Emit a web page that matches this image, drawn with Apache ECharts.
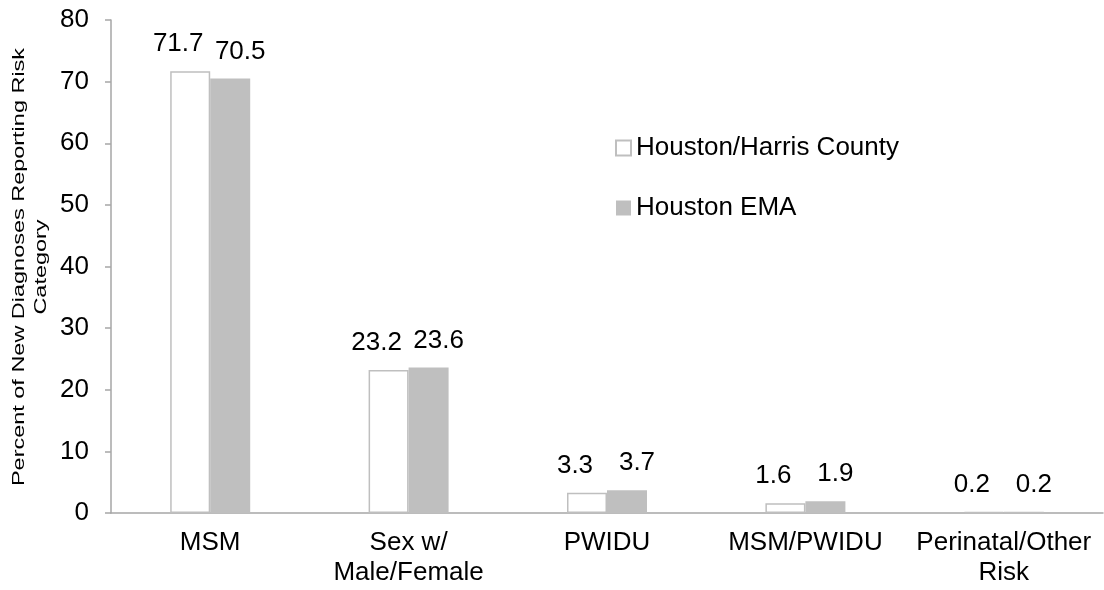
<!DOCTYPE html>
<html>
<head>
<meta charset="utf-8">
<script src="https://cdn.jsdelivr.net/npm/echarts@6/dist/echarts.min.js"></script>
<style>
  html, body { margin: 0; padding: 0; background: #fff; }
  #chart { width: 1104px; height: 590px; }
</style>
</head>
<body>
<div id="chart"></div>
<script>
// risk categories on the x axis
const categories = ["MSM", "Sex w/\nMale/Female", "PWIDU", "MSM/PWIDU", "Perinatal/Other\nRisk"];
// series names
const seriesNames = ["Houston/Harris County", "Houston EMA"];
// percent values per series
const harrisValues = [71.7, 23.2, 3.3, 1.6, 0.2];
const emaValues = [70.5, 23.6, 3.7, 1.9, 0.2];
// y axis ticks
const yMin = 0;
const yMax = 80;
const yStep = 10;

const font = "Liberation Sans, Arial, sans-serif";
const axisGray = "#a6a6a6";
const barGray = "#bfbfbf";

const chart = echarts.init(document.getElementById("chart"));

const labelStyle = {
  show: true,
  position: "top",
  distance: 14,
  fontFamily: font,
  fontSize: 26,
  color: "#000",
};

const option = {
  animation: false,
  backgroundColor: "#fff",
  grid: { left: 111, right: 1, top: 20, bottom: 77 },
  legend: {
    data: seriesNames,
    orient: "vertical",
    left: 615,
    top: 135,
    padding: 0,
    itemWidth: 15,
    itemHeight: 15,
    itemGap: 34,
    icon: "rect",
    textStyle: { fontFamily: font, fontSize: 26, color: "#000", lineHeight: 26 },
  },
  xAxis: {
    type: "category",
    data: categories,
    axisLine: { lineStyle: { color: axisGray, width: 1.5 } },
    axisTick: { show: false },
    axisLabel: {
      fontFamily: font,
      fontSize: 26,
      lineHeight: 30,
      color: "#000",
      margin: 15,
      interval: 0,
    },
  },
  yAxis: {
    type: "value",
    min: yMin,
    max: yMax,
    interval: yStep,
    axisLine: { show: true, lineStyle: { color: axisGray, width: 1.5 } },
    axisTick: { show: true, length: 6, lineStyle: { color: axisGray, width: 1.5 } },
    splitLine: { show: false },
    axisLabel: { fontFamily: font, fontSize: 26, color: "#000", margin: 22 },
  },
  graphic: [
    {
      // y axis title, stretched along its length like the original
      type: "text",
      x: 30,
      y: 267,
      rotation: Math.PI / 2,
      scaleX: 1.38,
      scaleY: 1,
      style: {
        text: "Percent of New Diagnoses Reporting Risk\nCategory",
        font: "17px " + font,
        fill: "#000",
        align: "center",
        verticalAlign: "middle",
        lineHeight: 22,
      },
    },
  ],
  series: [
    {
      name: seriesNames[0],
      type: "bar",
      data: harrisValues,
      barWidth: 40,
      barGap: "0%",
      itemStyle: { color: "#fff", borderColor: barGray, borderWidth: 1.5 },
      label: Object.assign({}, labelStyle, { offset: [-12, 0] }),
    },
    {
      name: seriesNames[1],
      type: "bar",
      data: emaValues,
      barWidth: 40,
      barGap: "0%",
      itemStyle: { color: barGray },
      label: Object.assign({}, labelStyle, { offset: [10, 0] }),
    },
  ],
};

chart.setOption(option);
window.addEventListener("resize", () => {
  chart.resize();
});
</script>
</body>
</html>
